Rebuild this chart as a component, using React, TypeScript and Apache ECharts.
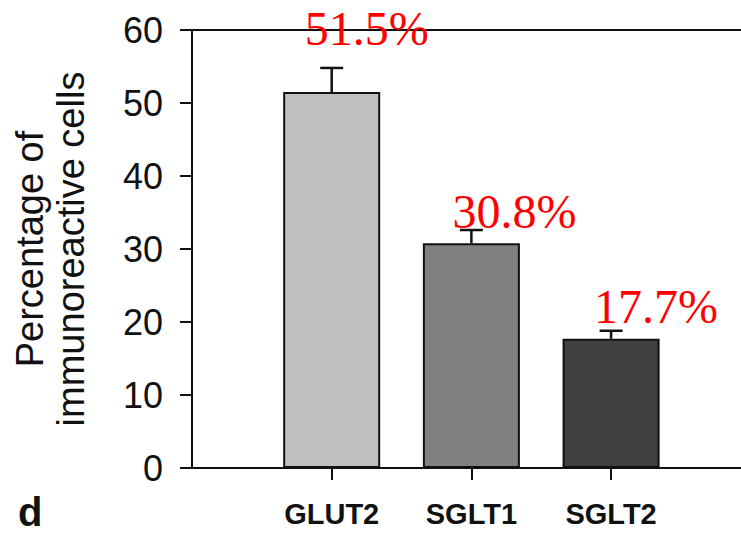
import React, { useEffect, useRef } from "react";
import * as echarts from "echarts";

// ---- data ----
const categories = ["GLUT2", "SGLT1", "SGLT2"];
const means = [51.5, 30.8, 17.7];
const sem = [3.3, 1.8, 1.1];
const annotations = ["51.5%", "30.8%", "17.7%"];
const barColors = ["#c0c0c0", "#808080", "#404040"];
const yMin = 0;
const yMax = 60;
const yStep = 10;
const yTitle = "Percentage of\nimmunoreactive cells";
const panelLetter = "d";

// styling for the red annotations (offset from the error-bar cap)
const annDx = [35, 43, 45];
const annLift = [39, 19, 24];

export default function App() {
  const ref = useRef<HTMLDivElement>(null);

  useEffect(() => {
    if (!ref.current) return;
    const chart = echarts.init(ref.current, null, { renderer: "svg" });
    const idx = categories.map((_, i) => i);
    const barData = means.map((v, i) => ({ value: [i, v], itemStyle: { color: barColors[i] } }));
    const errData = categories.map((_, i) => [i, means[i], sem[i], i]);
    const sans = "Liberation Sans, Arial, sans-serif";
    const xMin = -1;
    const xMax = 2.93;

    chart.setOption({
      animation: false,
      backgroundColor: "#ffffff",
      grid: { left: 192, right: 0, top: 30, bottom: 65, containLabel: false },
      xAxis: [
        {
          type: "value",
          min: xMin,
          max: xMax,
          position: "bottom",
          axisLine: { show: true, onZero: false, lineStyle: { color: "#111", width: 2 } },
          axisTick: {
            show: true,
            inside: false,
            length: 12,
            customValues: idx,
            lineStyle: { color: "#111", width: 2 },
          },
          axisLabel: {
            customValues: idx,
            margin: 31,
            color: "#111",
            fontSize: 29,
            fontWeight: "bold",
            fontFamily: sans,
            formatter: (v: number) => categories[Math.round(v)] ?? "",
          },
          splitLine: { show: false },
        },
        {
          type: "value",
          min: xMin,
          max: xMax,
          position: "top",
          axisLine: { show: true, onZero: false, lineStyle: { color: "#111", width: 2 } },
          axisTick: { show: false },
          axisLabel: { show: false },
          splitLine: { show: false },
        },
      ],
      yAxis: {
        type: "value",
        min: yMin,
        max: yMax,
        interval: yStep,
        name: yTitle,
        nameLocation: "middle",
        nameGap: 101,
        nameTextStyle: {
          fontSize: 38,
          lineHeight: 41,
          color: "#111",
          fontFamily: sans,
          align: "center",
        },
        axisLine: { show: true, onZero: false, lineStyle: { color: "#111", width: 2 } },
        axisTick: { show: true, inside: false, length: 12, lineStyle: { color: "#111", width: 2 } },
        axisLabel: { margin: 29, color: "#111", fontSize: 36, fontFamily: sans },
        splitLine: { show: false },
      },
      series: [
        {
          type: "bar",
          data: barData,
          barWidth: 97,
          itemStyle: { borderColor: "#111", borderWidth: 2 },
          z: 2,
        },
        {
          type: "custom",
          data: errData,
          z: 3,
          clip: false,
          renderItem: (params: any, api: any) => {
            const x = api.value(0);
            const m = api.value(1);
            const e = api.value(2);
            const i = api.value(3);
            const base = api.coord([x, m]);
            const top = api.coord([x, m + e]);
            const half = 11.5;
            return {
              type: "group",
              children: [
                {
                  type: "line",
                  shape: { x1: base[0], y1: base[1], x2: top[0], y2: top[1] },
                  style: { stroke: "#111", lineWidth: 2.5 },
                },
                {
                  type: "line",
                  shape: { x1: top[0] - half, y1: top[1], x2: top[0] + half, y2: top[1] },
                  style: { stroke: "#111", lineWidth: 2.5 },
                },
                {
                  type: "text",
                  style: {
                    text: annotations[i],
                    x: top[0] + annDx[i],
                    y: top[1] - annLift[i],
                    fill: "#ff0000",
                    fontSize: 48,
                    fontFamily: "Liberation Serif, Times New Roman, serif",
                    align: "center",
                    verticalAlign: "middle",
                  },
                },
              ],
            };
          },
        },
      ],
      graphic: [
        {
          type: "text",
          left: 18,
          top: 492,
          style: {
            text: panelLetter,
            fontSize: 40,
            fontWeight: "bold",
            fontFamily: sans,
            fill: "#111",
          },
        },
      ],
    });
    return () => chart.dispose();
  }, []);

  return (
    <div
      ref={ref}
      style={{ position: "fixed", left: 0, top: 0, width: 741, height: 533, background: "#fff" }}
    />
  );
}
